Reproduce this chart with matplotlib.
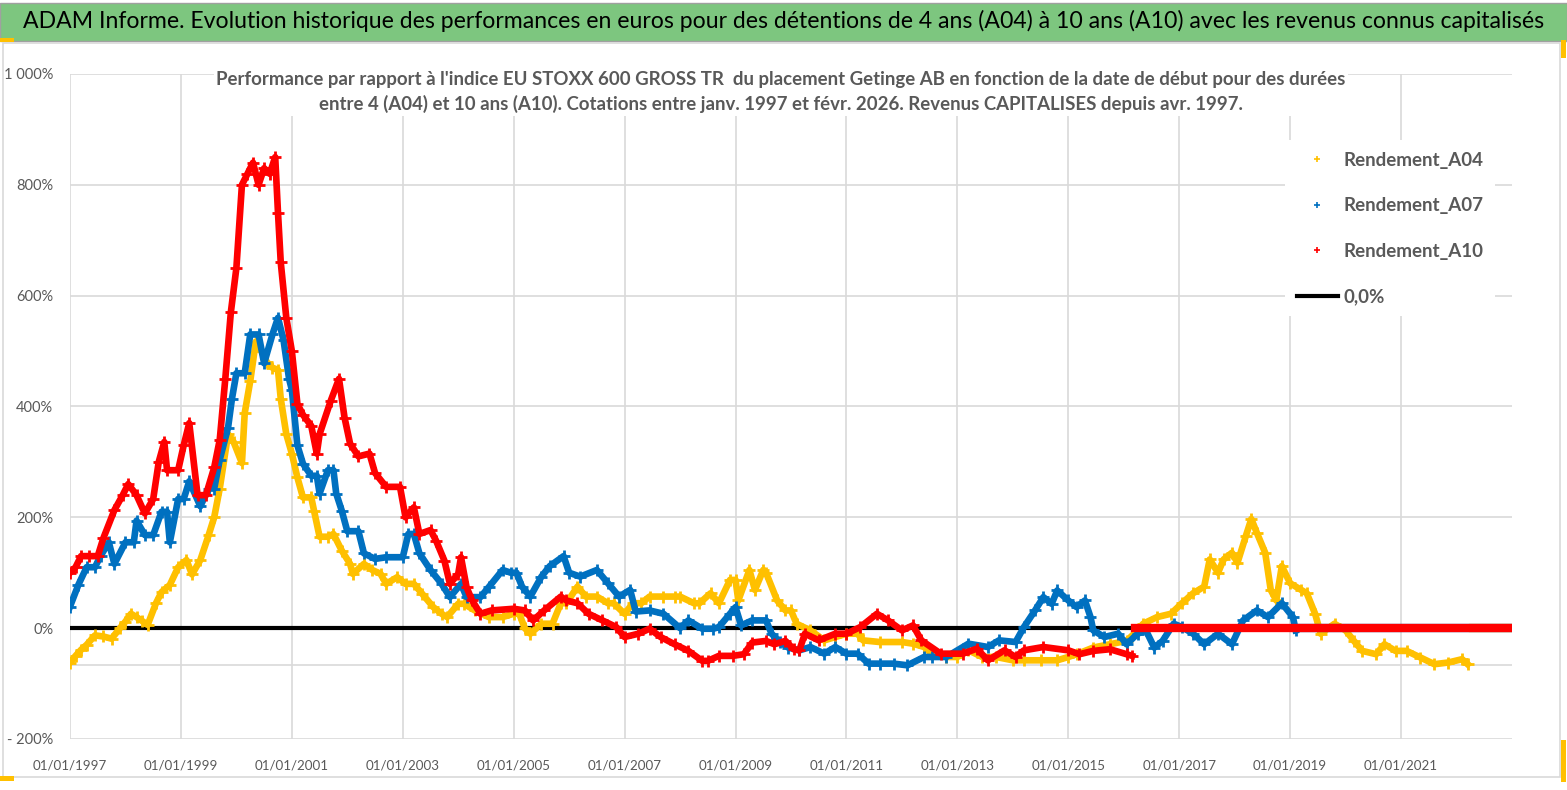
import matplotlib.pyplot as plt
from matplotlib.lines import Line2D
from matplotlib.patches import Rectangle

# Decimal years (start date) and performance in %
a04_years = [1997.0, 1997.1, 1997.2, 1997.3, 1997.45, 1997.6, 1997.75, 1997.9, 1998.0, 1998.1,
             1998.2, 1998.3, 1998.4, 1998.55, 1998.65, 1998.8, 1998.95, 1999.1, 1999.2, 1999.35,
             1999.5, 1999.6, 1999.7, 1999.85, 1999.95, 2000.1, 2000.15, 2000.25, 2000.35, 2000.45,
             2000.55, 2000.65, 2000.75, 2000.8, 2000.9, 2001.0, 2001.1, 2001.2, 2001.35, 2001.4,
             2001.5, 2001.65, 2001.75, 2001.9, 2002.05, 2002.1, 2002.3, 2002.45, 2002.6, 2002.7,
             2002.9, 2003.05, 2003.2, 2003.35, 2003.55, 2003.7, 2003.8, 2004.0, 2004.1, 2004.3,
             2004.55, 2004.8, 2005.0, 2005.1, 2005.2, 2005.3, 2005.5, 2005.7, 2005.85, 2005.95,
             2006.15, 2006.3, 2006.5, 2006.7, 2006.8, 2007.0, 2007.15, 2007.3, 2007.45, 2007.7,
             2007.9, 2008.0, 2008.25, 2008.35, 2008.55, 2008.7, 2008.9, 2009.0, 2009.05, 2009.25,
             2009.35, 2009.5, 2009.55, 2009.75, 2009.9, 2010.0, 2010.1, 2010.35, 2010.6, 2010.8,
             2011.0, 2011.2, 2011.3, 2011.6, 2012.0, 2012.2, 2012.4, 2012.55, 2012.8, 2013.0,
             2013.2, 2013.45, 2013.7, 2014.0, 2014.2, 2014.5, 2014.8, 2015.0, 2015.15, 2015.45,
             2015.75, 2016.05, 2016.25, 2016.35, 2016.6, 2016.85, 2017.05, 2017.25, 2017.45, 2017.55,
             2017.7, 2017.8, 2017.95, 2018.05, 2018.2, 2018.3, 2018.4, 2018.55, 2018.65, 2018.75,
             2018.85, 2019.0, 2019.2, 2019.3, 2019.45, 2019.55, 2019.8, 2020.0, 2020.15, 2020.3,
             2020.55, 2020.7, 2020.9, 2021.1, 2021.35, 2021.6, 2021.85, 2022.1, 2022.2]
a04_values = [-62, -50, -39, -30, -13, -15, -19, 0, 12, 26,
              20, 13, 6, 45, 65, 78, 110, 123, 97, 123,
              168, 200, 252, 350, 336, 298, 388, 446, 517, 500,
              480, 470, 466, 414, 350, 315, 272, 236, 236, 212,
              165, 165, 170, 140, 116, 98, 116, 105, 98, 80,
              92, 80, 80, 62, 38, 26, 20, 44, 44, 32,
              20, 20, 26, 26, 0, -10, 8, 8, 45, 45,
              75, 57, 57, 45, 45, 26, 45, 45, 57, 57,
              57, 57, 45, 45, 63, 45, 87, 87, 50, 105,
              69, 105, 100, 50, 32, 32, 8, -4, -22, -16,
              -10, -10, -22, -25, -25, -28, -34, -46, -52, -52,
              -40, -52, -52, -58, -58, -58, -58, -52, -47, -35,
              -29, -23, -4, 8, 20, 26, 45, 63, 75, 124,
              100, 124, 136, 118, 166, 197, 172, 136, 69, 50,
              112, 81, 69, 63, 26, -10, 8, -4, -23, -41,
              -47, -29, -41, -41, -53, -65, -62, -56, -65]
# after the last known window each series is reported at 0
a04_tail_years = [2022.3, 2022.6, 2023.0]
a04_tail_values = [0, 0, 0]

a07_years = [1997.0, 1997.15, 1997.3, 1997.45, 1997.55, 1997.7, 1997.8, 1998.0, 1998.15, 1998.2,
             1998.35, 1998.5, 1998.65, 1998.75, 1998.8, 1998.95, 1999.05, 1999.15, 1999.35, 1999.5,
             1999.6, 1999.7, 1999.85, 1999.92, 2000.0, 2000.15, 2000.25, 2000.4, 2000.5, 2000.65,
             2000.75, 2000.85, 2000.95, 2001.0, 2001.1, 2001.2, 2001.35, 2001.45, 2001.5, 2001.65,
             2001.75, 2001.8, 2001.9, 2002.0, 2002.2, 2002.3, 2002.5, 2002.7, 2003.0, 2003.1,
             2003.2, 2003.3, 2003.5, 2003.7, 2003.85, 2004.05, 2004.15, 2004.4, 2004.55, 2004.8,
             2004.95, 2005.05, 2005.15, 2005.3, 2005.5, 2005.65, 2005.9, 2006.0, 2006.2, 2006.5,
             2006.7, 2006.9, 2007.1, 2007.2, 2007.45, 2007.7, 2008.0, 2008.15, 2008.4, 2008.6,
             2008.7, 2008.9, 2009.0, 2009.1, 2009.3, 2009.55, 2009.65, 2009.8, 2009.95, 2010.15,
             2010.35, 2010.6, 2010.8, 2011.0, 2011.2, 2011.4, 2011.6, 2011.85, 2012.1, 2012.4,
             2012.55, 2012.8, 2013.2, 2013.55, 2013.75, 2014.05, 2014.2, 2014.4, 2014.55, 2014.7,
             2014.8, 2015.0, 2015.15, 2015.3, 2015.4, 2015.45, 2015.65, 2015.9, 2016.05, 2016.25,
             2016.4, 2016.55, 2016.7, 2016.9, 2017.05, 2017.25, 2017.45, 2017.7, 2017.95, 2018.15,
             2018.4, 2018.6, 2018.85, 2019.05, 2019.1]
a07_values = [39, 78, 110, 110, 130, 155, 116, 155, 155, 194,
              168, 168, 210, 210, 155, 233, 233, 265, 220, 252,
              252, 304, 362, 414, 460, 460, 530, 530, 478, 530,
              560, 520, 450, 430, 330, 297, 275, 275, 243, 285,
              285, 243, 212, 175, 175, 135, 125, 128, 128, 170,
              170, 135, 105, 80, 56, 80, 56, 56, 74, 105,
              100, 100, 75, 57, 93, 112, 130, 100, 93, 105,
              81, 57, 69, 30, 32, 26, 0, 14, -1, -1,
              2, 26, 38, 5, 14, 14, -10, -25, -35, -40,
              -34, -46, -34, -46, -46, -64, -64, -64, -67, -52,
              -52, -52, -28, -34, -22, -25, 2, 32, 56, 44,
              68, 50, 38, 50, 20, -4, -16, -10, -29, -10,
              -4, -35, -23, 8, 2, -10, -29, -10, -29, 14,
              32, 20, 45, 20, -4]
a07_tail_years = [2019.2, 2019.7, 2020.1, 2020.5, 2020.9, 2021.3, 2021.7, 2022.1, 2022.5, 2023.0]
a07_tail_values = [0, 0, 0, 0, 0, 0, 0, 0, 0, 0]

a10_years = [1997.0, 1997.1, 1997.2, 1997.35, 1997.5, 1997.6, 1997.8, 1997.95, 1998.05, 1998.2,
             1998.35, 1998.5, 1998.6, 1998.7, 1998.75, 1998.95, 1999.05, 1999.15, 1999.3, 1999.45,
             1999.6, 1999.7, 1999.8, 1999.9, 2000.0, 2000.1, 2000.2, 2000.3, 2000.4, 2000.5,
             2000.6, 2000.7, 2000.75, 2000.8, 2000.9, 2001.0, 2001.1, 2001.2, 2001.35, 2001.45,
             2001.5, 2001.7, 2001.85, 2001.95, 2002.05, 2002.2, 2002.4, 2002.5, 2002.7, 2002.95,
             2003.05, 2003.2, 2003.3, 2003.5, 2003.6, 2003.75, 2003.85, 2004.0, 2004.05, 2004.15,
             2004.25, 2004.4, 2004.6, 2005.0, 2005.2, 2005.35, 2005.55, 2005.85, 2005.95, 2006.15,
             2006.35, 2006.6, 2006.85, 2007.0, 2007.25, 2007.45, 2007.65, 2007.9, 2008.15, 2008.4,
             2008.5, 2008.7, 2008.95, 2009.15, 2009.3, 2009.55, 2009.7, 2009.9, 2010.05, 2010.15,
             2010.25, 2010.5, 2010.8, 2011.0, 2011.25, 2011.55, 2011.75, 2012.0, 2012.2, 2012.35,
             2012.7, 2013.1, 2013.35, 2013.55, 2013.85, 2014.05, 2014.2, 2014.55, 2015.0, 2015.2,
             2015.45, 2015.75, 2016.05, 2016.15]
a10_values = [100, 110, 130, 130, 130, 162, 213, 240, 260, 240,
              207, 233, 300, 336, 285, 285, 330, 370, 240, 240,
              290, 340, 450, 570, 650, 800, 820, 840, 800, 830,
              820, 850, 750, 660, 560, 500, 405, 385, 365, 315,
              350, 410, 450, 380, 333, 310, 315, 280, 255, 255,
              200, 218, 170, 177, 158, 122, 80, 98, 128, 74,
              50, 26, 32, 35, 32, 14, 32, 57, 50, 45,
              26, 14, 2, -16, -10, -1, -16, -29, -41, -59,
              -59, -50, -50, -47, -26, -23, -29, -23, -38, -40,
              -10, -22, -10, -10, 2, 26, 14, -4, 5, -22,
              -46, -46, -37, -58, -40, -52, -40, -34, -40, -47,
              -41, -38, -47, -50]
a10_tail_years = [2016.2, 2016.5, 2016.9, 2017.3, 2017.7, 2018.1, 2018.5, 2018.9, 2019.3, 2019.7,
                  2020.1, 2020.5, 2020.9, 2021.3, 2021.7, 2022.1, 2022.5, 2023.0]
a10_tail_values = [0, 0, 0, 0, 0, 0, 0, 0, 0, 0,
                   0, 0, 0, 0, 0, 0, 0, 0]

zero_level = 0.0
low_line = -66
x_ticks = [1997, 1999, 2001, 2003, 2005, 2007, 2009, 2011, 2013, 2015, 2017, 2019, 2021]
y_ticks = [-200, 0, 200, 400, 600, 800, 1000]
y_labels = ['- 200%', '0%', '200%', '400%', '600%', '800%', '1 000%']

FONT = ['Lato', 'DejaVu Sans']
plt.rcParams['font.family'] = FONT
GRAY = '#595959'

fig = plt.figure(figsize=(15.67, 7.9), dpi=100)
W, H = 1567, 790

# title band
fig.patches.append(Rectangle((0, 1 - 41 / H), 1, 38 / H, transform=fig.transFigure,
                             facecolor='#7dc67f', edgecolor='#a0a0a0', lw=1))
fig.text(0.5, 1 - 21 / H, "ADAM Informe. Evolution historique des performances en euros pour des "
         "détentions de 4 ans (A04) à 10 ans (A10) avec les revenus connus capitalisés",
         ha='center', va='center', fontsize=16.6, color='black')
# chart border + selection handles
fig.patches.append(Rectangle((3 / W, 1 - 777 / H), 1557 / W, 734 / H, transform=fig.transFigure,
                             facecolor='none', edgecolor='#d9d9d9', lw=1.2))
for (x0, y0, w, h) in [(0, 38, 14, 4), (0, 776, 14, 5), (1561, 40, 5, 18), (1561, 740, 5, 42)]:
    fig.patches.append(Rectangle((x0 / W, 1 - (y0 + h) / H), w / W, h / H,
                                 transform=fig.transFigure, facecolor='#ffc000', lw=0))

ax = fig.add_axes([70 / W, 1 - 739 / H, 1442 / W, 665 / H])
ax.set_xlim(1997.0, 2023.0)
ax.set_ylim(-200, 1000)
ax.set_xticks(x_ticks)
ax.set_xticklabels(['01/01/%d' % y for y in x_ticks])
ax.set_yticks(y_ticks)
ax.set_yticklabels(y_labels)
ax.tick_params(length=0, labelsize=10.5, labelcolor=GRAY)
ax.tick_params(axis='x', pad=15, labelsize=9.6)
ax.tick_params(axis='y', pad=12)
ax.grid(True, color='#d9d9d9', lw=1.2)
ax.set_axisbelow(True)
for s in ax.spines.values():
    s.set_visible(False)
ax.axhline(low_line, color='#d9d9d9', lw=1.2, zorder=0.5)

ax.axhline(zero_level, color='black', lw=3, zorder=1.5)
series = [(a04_years, a04_values, a04_tail_years, a04_tail_values, '#ffc000', 'Rendement_A04'),
          (a07_years, a07_values, a07_tail_years, a07_tail_values, '#0070c0', 'Rendement_A07'),
          (a10_years, a10_values, a10_tail_years, a10_tail_values, '#ff0000', 'Rendement_A10')]
for i, (xs, ys, tx, ty, c, lab) in enumerate(series):
    ax.plot(xs, ys, color=c, lw=4.8, marker='+', ms=8.5, mew=2, zorder=2 + i)
    ax.plot(tx, ty, color=c, lw=6, zorder=2 + i)

handles = [Line2D([], [], ls='none', marker='+', ms=5, mew=1.2, color=s[4]) for s in series]
handles.append(Line2D([], [], color='black', lw=3))
labels = [s[5] for s in series] + ['0,0%']
leg = ax.legend(handles, labels, loc='upper left', bbox_to_anchor=((1276 - 70) / 1442, (739 - 131) / 665),
                frameon=True, facecolor='white', edgecolor='none', framealpha=1,
                prop={'family': FONT, 'weight': 'bold', 'size': 13.5}, labelcolor=GRAY,
                labelspacing=1.52, handlelength=2.2, handletextpad=0.3, borderpad=0.6)
leg.set_zorder(10)

ax.text((781 - 70) / 1442, (739 - 92) / 665, "Performance par rapport à l'indice EU STOXX 600 GROSS TR  du placement "
        "Getinge AB en fonction de la date de début pour des durées\nentre 4 (A04) et 10 ans (A10). "
        "Cotations entre janv. 1997 et févr. 2026. Revenus CAPITALISES depuis avr. 1997.",
        transform=ax.transAxes, ha='center', va='center', fontsize=13.4, fontweight='bold',
        color=GRAY, linespacing=1.45, zorder=11,
        bbox=dict(facecolor='white', edgecolor='none', pad=2))

fig.savefig('out.png', dpi=100)
